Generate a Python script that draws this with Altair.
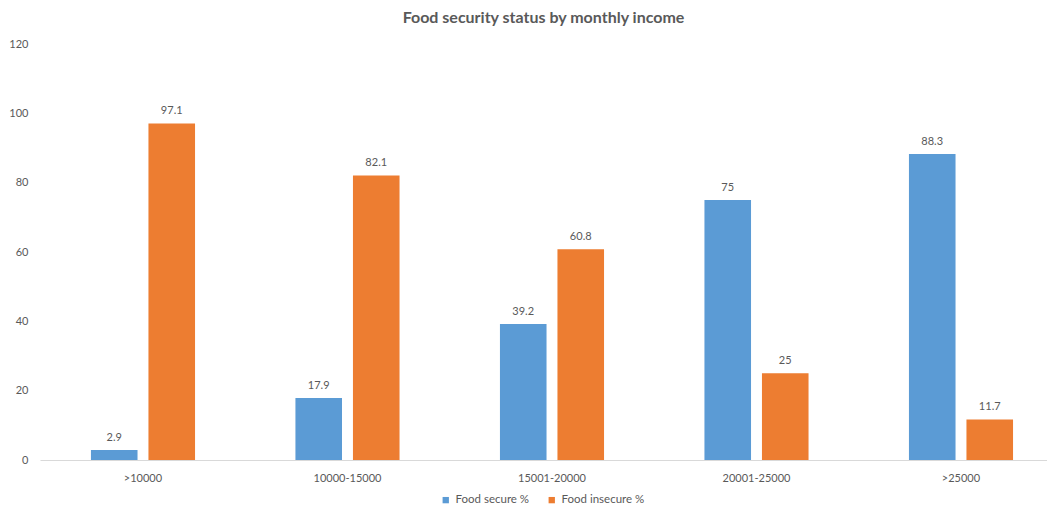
import altair as alt
import pandas as pd

categories = [">10000", "10000-15000", "15001-20000", "20001-25000", ">25000"]
series = ["Food secure %", "Food insecure %"]
food_secure = [2.9, 17.9, 39.2, 75, 88.3]
food_insecure = [97.1, 82.1, 60.8, 25, 11.7]
y_ticks = [0, 20, 40, 60, 80, 100, 120]

rows = []
for c, s, i in zip(categories, food_secure, food_insecure):
    rows.append({"income": c, "status": series[0], "value": s})
    rows.append({"income": c, "status": series[1], "value": i})
df = pd.DataFrame(rows)

FONT = "Lato"
GRAY = "#595959"

base = alt.Chart(df).encode(
    x=alt.X("income:N", sort=categories, title=None,
            scale=alt.Scale(paddingInner=0.491, paddingOuter=0.2076, align=0.6),
            axis=alt.Axis(labelAngle=0, ticks=False, domainColor="#D9D9D9",
                          labelColor=GRAY, labelFont=FONT, labelFontSize=11,
                          labelPadding=12)),
    xOffset=alt.XOffset("status:N", sort=series,
                        scale=alt.Scale(paddingInner=0.19)),
    y=alt.Y("value:Q", title=None,
            scale=alt.Scale(domain=[0, 120]),
            axis=alt.Axis(values=y_ticks, grid=False, domain=False, ticks=False,
                          labelColor=GRAY, labelFont=FONT, labelFontSize=11,
                          labelPadding=12)),
)

bars = base.mark_bar().encode(
    color=alt.Color("status:N", sort=series, title=None,
                    scale=alt.Scale(domain=series, range=["#5B9BD5", "#ED7D31"]),
                    legend=alt.Legend(orient="none", direction="horizontal",
                                      legendX=400, legendY=450,
                                      symbolType="square", symbolSize=40,
                                      labelFont=FONT, labelFontSize=11.5,
                                      labelColor=GRAY, columnPadding=16)),
)

labels = base.mark_text(baseline="bottom", dy=-7, font=FONT, fontSize=11,
                        color=GRAY).encode(
    text=alt.Text("value:Q"),
)

chart = alt.layer(bars, labels).properties(
    width=1007,
    height=416,
    title=alt.TitleParams("Food security status by monthly income",
                          font=FONT, fontSize=16, fontWeight="bold",
                          color=GRAY, anchor="middle", offset=12),
    autosize=alt.AutoSizeParams(type="none"),
    padding={"left": 32, "top": 36, "right": 0, "bottom": 48},
).configure_view(stroke=None)

chart.save("out.html", embed_options={"renderer": "svg", "actions": False})
